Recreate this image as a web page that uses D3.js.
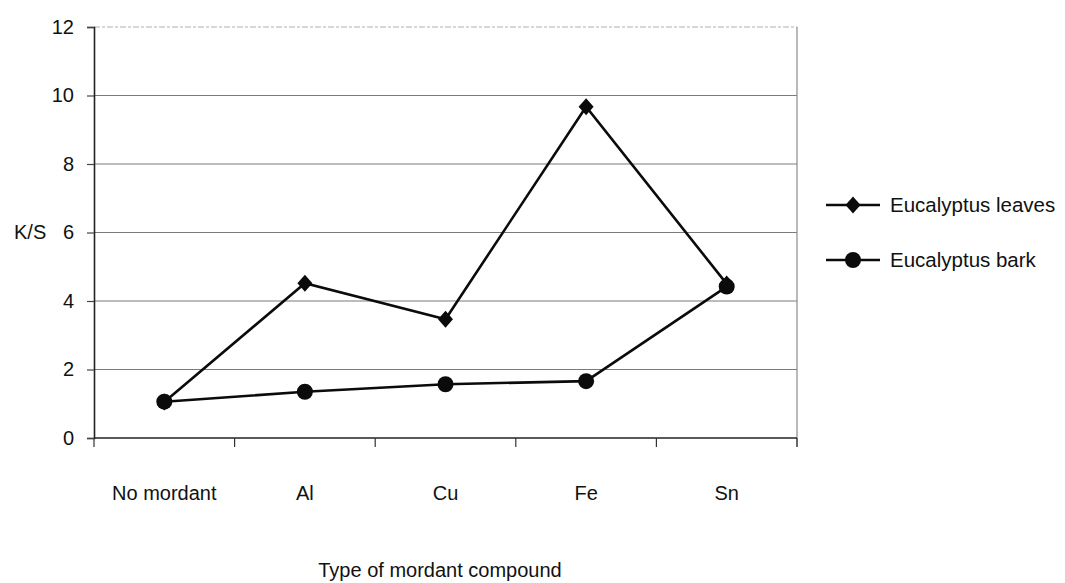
<!DOCTYPE html>
<html>
<head>
<meta charset="utf-8">
<script src="https://cdn.jsdelivr.net/npm/d3@7"></script>
<style>
  html, body { margin: 0; padding: 0; background: #fff; }
  svg { display: block; }
  text { font-family: "Liberation Sans", Arial, sans-serif; fill: #111; }
</style>
</head>
<body>
<svg id="chart" width="1065" height="583"></svg>
<script>
// Mordant types along the x axis
const categories = ["No mordant", "Al", "Cu", "Fe", "Sn"];
// K/S values per mordant
const leavesValues = [1.05, 4.52, 3.47, 9.67, 4.5];
const barkValues = [1.06, 1.35, 1.57, 1.66, 4.42];
const seriesNames = ["Eucalyptus leaves", "Eucalyptus bark"];
const yTicks = [0, 2, 4, 6, 8, 10, 12];
const yLabel = "K/S";
const xLabel = "Type of mordant compound";

const svg = d3.select("#chart");
const plot = { left: 94, right: 797, top: 27, bottom: 438 };

const x = d3.scaleBand().domain(categories).range([plot.left, plot.right]).padding(0);
const y = d3.scaleLinear().domain([0, 12]).range([plot.bottom, plot.top]);
const cx = c => x(c) + x.bandwidth() / 2;

// horizontal gridlines
svg.append("g")
  .selectAll("line")
  .data(yTicks.filter(t => t > 0 && t < 12))
  .join("line")
  .attr("x1", plot.left).attr("x2", plot.right)
  .attr("y1", d => y(d)).attr("y2", d => y(d))
  .attr("stroke", "#7a7a7a").attr("stroke-width", 1.2);

// top and right frame of the plot area
svg.append("line")
  .attr("x1", plot.left).attr("x2", plot.right)
  .attr("y1", y(12)).attr("y2", y(12))
  .attr("stroke", "#b0b0b0").attr("stroke-width", 1.2)
  .attr("stroke-dasharray", "6 2 3 2");
svg.append("line")
  .attr("x1", plot.right).attr("x2", plot.right)
  .attr("y1", y(12)).attr("y2", plot.bottom + 9)
  .attr("stroke", "#8a8a8a").attr("stroke-width", 1.2);

// y axis
const yAxis = svg.append("g")
  .attr("transform", `translate(${plot.left},0)`)
  .call(d3.axisLeft(y).tickValues(yTicks).tickSize(7).tickPadding(13).tickFormat(d3.format("d")));
yAxis.select(".domain").attr("stroke", "#222").attr("stroke-width", 1.6);
yAxis.selectAll(".tick line").attr("stroke", "#444").attr("stroke-width", 1.2);
yAxis.selectAll(".tick text").style("font-size", "20px").attr("fill", "#111")
  .style("font-family", "'Liberation Sans', Arial, sans-serif");

// x axis: baseline, boundary ticks and category labels
svg.append("line")
  .attr("x1", plot.left).attr("x2", plot.right)
  .attr("y1", plot.bottom).attr("y2", plot.bottom)
  .attr("stroke", "#222").attr("stroke-width", 1.6);
const edges = categories.map(c => x(c)).concat([x(categories[categories.length - 1]) + x.bandwidth()]);
svg.append("g")
  .selectAll("line")
  .data(edges)
  .join("line")
  .attr("x1", d => d).attr("x2", d => d)
  .attr("y1", plot.bottom).attr("y2", plot.bottom + 9)
  .attr("stroke", "#333").attr("stroke-width", 1.2);
svg.append("g")
  .selectAll("text")
  .data(categories)
  .join("text")
  .attr("x", d => cx(d))
  .attr("y", 500)
  .attr("text-anchor", "middle")
  .style("font-size", "20px")
  .text(d => d);

// axis titles
svg.append("text")
  .attr("x", 14).attr("y", y(6) + 6)
  .style("font-size", "20px")
  .text(yLabel);
svg.append("text")
  .attr("x", 440).attr("y", 577)
  .attr("text-anchor", "middle")
  .style("font-size", "20px")
  .text(xLabel);

// diamond marker, slightly taller than wide
const diamondShape = {
  draw(ctx) {
    ctx.moveTo(0, -8.5);
    ctx.lineTo(7.5, 0);
    ctx.lineTo(0, 8.5);
    ctx.lineTo(-7.5, 0);
    ctx.closePath();
  }
};
const diamond = d3.symbol().type(diamondShape);

// series
const line = d3.line().x(d => cx(d.c)).y(d => y(d.v));
const leaves = categories.map((c, i) => ({ c, v: leavesValues[i] }));
const bark = categories.map((c, i) => ({ c, v: barkValues[i] }));

svg.append("path").datum(leaves)
  .attr("d", line).attr("fill", "none")
  .attr("stroke", "#0b0b0b").attr("stroke-width", 2.6);
svg.append("g").selectAll("path")
  .data(leaves).join("path")
  .attr("transform", d => `translate(${cx(d.c)},${y(d.v)})`)
  .attr("d", diamond).attr("fill", "#0b0b0b");

svg.append("path").datum(bark)
  .attr("d", line).attr("fill", "none")
  .attr("stroke", "#0b0b0b").attr("stroke-width", 2.6);
svg.append("g").selectAll("circle")
  .data(bark).join("circle")
  .attr("cx", d => cx(d.c)).attr("cy", d => y(d.v))
  .attr("r", 8).attr("fill", "#0b0b0b");

// legend
const legendY = [205, 260];
const lg = svg.append("g");
seriesNames.forEach((name, i) => {
  const ly = legendY[i];
  lg.append("line")
    .attr("x1", 826).attr("x2", 880).attr("y1", ly).attr("y2", ly)
    .attr("stroke", "#0b0b0b").attr("stroke-width", 2.6);
  if (i === 0) {
    lg.append("path").attr("transform", `translate(853,${ly})`)
      .attr("d", diamond).attr("fill", "#0b0b0b");
  } else {
    lg.append("circle").attr("cx", 853).attr("cy", ly).attr("r", 8).attr("fill", "#0b0b0b");
  }
  lg.append("text")
    .attr("x", 890).attr("y", ly + 7)
    .style("font-size", "20.5px")
    .text(name);
});
</script>
</body>
</html>
